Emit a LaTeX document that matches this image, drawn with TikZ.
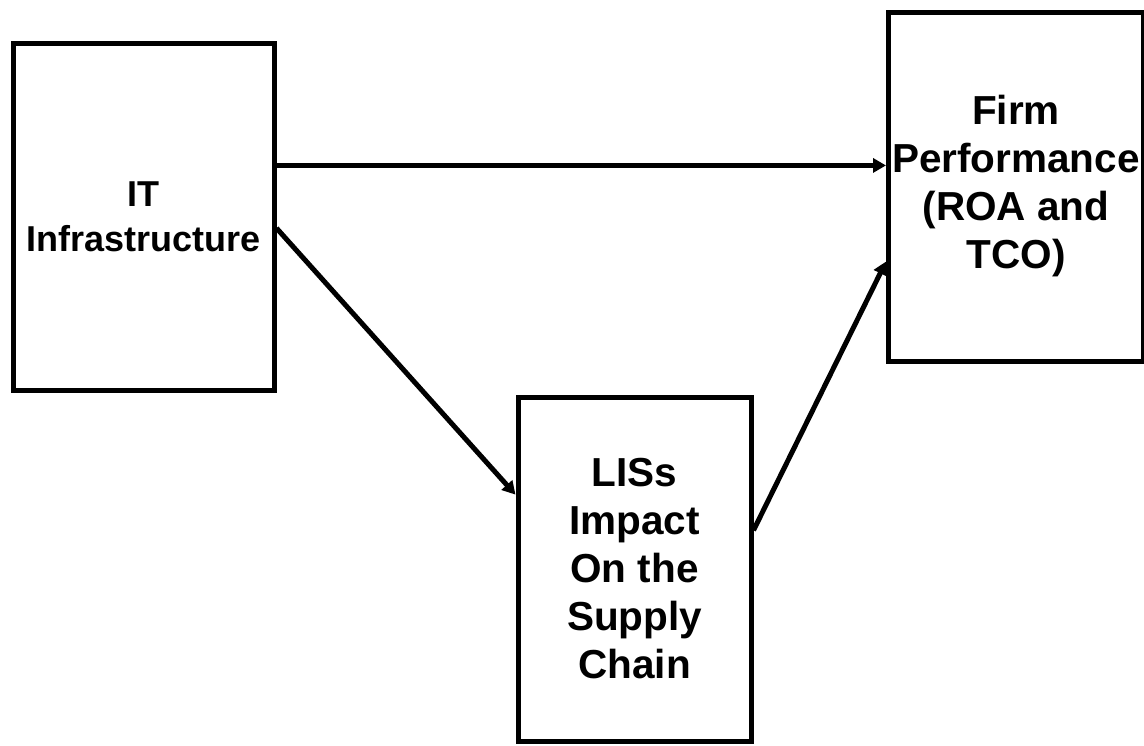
\documentclass[tikz,border=0pt]{standalone}
\usepackage{fontspec}
\setmainfont{Liberation Sans}
\usetikzlibrary{calc,positioning,arrows.meta}

\begin{document}
\begin{tikzpicture}
		[x=1pt, y=-1pt, line width=5pt, >={Triangle[length=13pt,width=14pt]},
		 box/.style={draw, align=center, inner sep=0pt, font=\bfseries\fontsize{40.5}{48}\selectfont}]
		\useasboundingbox (0,0) rectangle (1144,745);
		\node[box, minimum width=261pt, minimum height=347pt, font=\bfseries\fontsize{36}{45}\selectfont] (1) at (143.5,216.5) {IT\\Infrastructure};
		\node[box, minimum width=255pt, minimum height=349pt] (2) at (1016,186.5) {Firm\\Performance\\(ROA and\\TCO)};
		\node[box, minimum width=233pt, minimum height=344pt] (3) at (634.5,569) {LISs\\Impact\\On the\\Supply\\Chain};
		
		\draw[->] (1.21.5) -- (1.21.5 -| 2.west);
		\draw[->] (1.-5) -- (3.148.6);
		\draw[->] (3.18.5) -- (2.210.6);
		\end{tikzpicture}
\end{document}
